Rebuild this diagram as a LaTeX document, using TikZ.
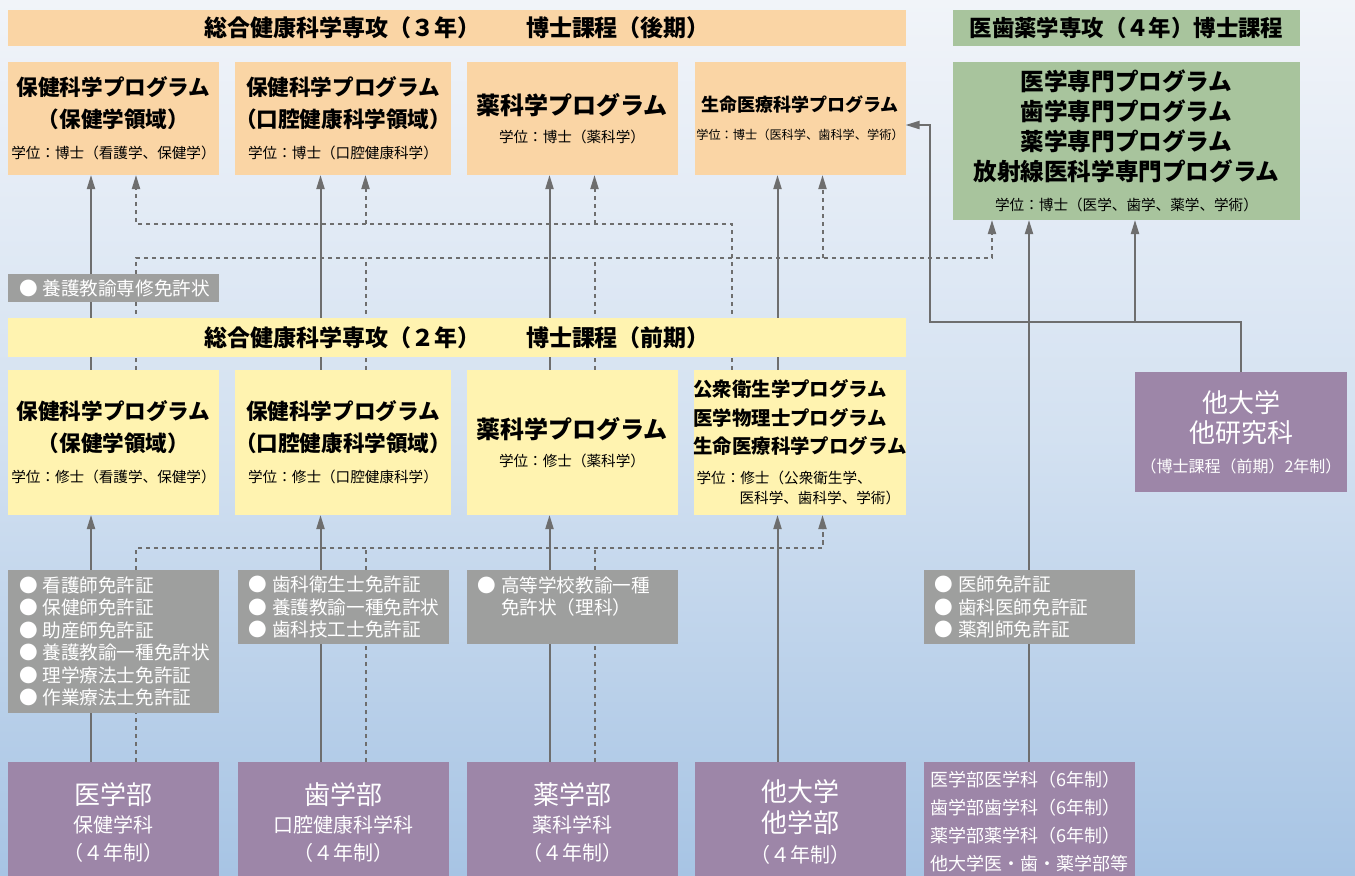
\documentclass[tikz,border=0pt]{standalone}
\usepackage{fontspec}
\setmainfont{Noto Sans CJK JP}
\usetikzlibrary{arrows.meta, calc, positioning}

\definecolor{docorange}{HTML}{FAD5A5}
\definecolor{msyellow}{HTML}{FFF3B0}
\definecolor{medgreen}{HTML}{A8C49D}
\definecolor{licgray}{HTML}{9E9F9E}
\definecolor{ugpurple}{HTML}{9D86A8}
\definecolor{linegray}{HTML}{6E6E6E}
\definecolor{bgtop}{HTML}{F1F4F9}
\definecolor{bgmid}{HTML}{D3E1F1}
\definecolor{bgbot}{HTML}{A7C4E4}

% fonts for the box texts
\newcommand{\hdfont}{\bfseries\fontsize{11.5}{14}\selectfont}
\newcommand{\progttl}{\bfseries\fontsize{10.8}{15.8}\selectfont}
\newcommand{\bigttl}{\bfseries\fontsize{12}{14}\selectfont}
\newcommand{\degtxt}{\mdseries\fontsize{7.3}{10}\selectfont}
\newcommand{\ugbig}{\fontsize{13}{16}\selectfont}
\newcommand{\bul}{●\kern2.5pt}

\pgfdeclarelayer{back}
\pgfdeclarelayer{lines}
\pgfsetlayers{back,lines,main}

\begin{document}
\begin{tikzpicture}[x=0.5pt, y=-0.5pt,
    every node/.style={inner sep=0pt, outer sep=0pt},
    hdr/.style={minimum height=18pt, font=\hdfont},
    box/.style={minimum width=105.5pt, align=center},
    doc/.style={box, fill=docorange, minimum height=56.5pt, font=\fontsize{10.8}{15.8}\selectfont},
    mas/.style={box, fill=msyellow, minimum height=72.5pt, font=\fontsize{10.8}{15.8}\selectfont},
    lic/.style={box, fill=licgray, text=white, align=left, text width=94.5pt, font=\fontsize{9.3}{11.25}\selectfont},
    ug/.style={box, fill=ugpurple, text=white, minimum height=60pt, font=\fontsize{10}{14}\selectfont},
    arr/.style={draw=linegray, line width=1pt, -{Triangle[length=7pt,width=4pt]}},
    darr/.style={arr, line width=1pt, dash pattern=on 2.2pt off 1.8pt},
    dline/.style={darr, -},
  ]
\useasboundingbox (0,0) rectangle (1355,875);
\clip (0,0) rectangle (1355,875);
\begin{pgfonlayer}{back}
\fill[top color=bgtop, bottom color=bgbot, middle color=bgmid] (0,0) rectangle (1355,875);
\end{pgfonlayer}

% doctoral course
\node[hdr, fill=docorange, minimum width=449pt] (h3) at (457,28) {総合健康科学専攻（３年）　　博士課程（後期）};
\node[hdr, fill=medgreen, minimum width=173.5pt, font=\bfseries\fontsize{11.2}{14}\selectfont] (hg) at (1126.5,28) {医歯薬学専攻（４年）博士課程};
\node[doc] (d1) at (113.5,118.5) {\progttl 保健科学プログラム\\\progttl （保健学領域）\\\degtxt 学位：博士（看護学、保健学）};
\node[doc] (d2) at (343,118.5) {\progttl 保健科学プログラム\\\progttl （口腔健康科学領域）\\\degtxt 学位：博士（口腔健康科学）};
\node[doc, font=\fontsize{12}{14}\selectfont] (d3) at (572,118.5) {\bigttl 薬科学プログラム\\\degtxt 学位：博士（薬科学）};
\node[doc, font=\fontsize{9}{14}\selectfont] (d4) at (800,118.5) {\bfseries 生命医療科学プログラム\\\fontsize{6.1}{8}\selectfont 学位：博士（医科学、歯科学、学術）};
\node[box, fill=medgreen, minimum width=173.5pt, minimum height=79pt, font=\fontsize{11.8}{15}\selectfont] (g1) at (1126.5,141) {\bfseries 医学専門プログラム\\\bfseries 歯学専門プログラム\\\bfseries 薬学専門プログラム\\\bfseries 放射線医科学専門プログラム\\\degtxt 学位：博士（医学、歯学、薬学、学術）};
\node[lic, minimum height=14pt] (ly) at (113.5,288) {\bul 養護教諭専修免許状};

% master course
\node[hdr, fill=msyellow, minimum width=449pt, minimum height=19.5pt] (h2) at (457,337.5) {総合健康科学専攻（２年）　　博士課程（前期）};
\node[mas] (m1) at (113.5,442.5) {\progttl 保健科学プログラム\\\progttl （保健学領域）\\\degtxt 学位：修士（看護学、保健学）};
\node[mas] (m2) at (343,442.5) {\progttl 保健科学プログラム\\\progttl （口腔健康科学領域）\\\degtxt 学位：修士（口腔健康科学）};
\node[mas, font=\fontsize{12}{14}\selectfont] (m3) at (572,442.5) {\bigttl 薬科学プログラム\\\degtxt 学位：修士（薬科学）};
\node[mas, align=left, font=\fontsize{9.7}{14.2}\selectfont] (m4) at (800,442.5) {\bfseries 公衆衛生学プログラム\\\bfseries 医学物理士プログラム\\\bfseries 生命医療科学プログラム\\[0.8pt]\degtxt\hspace*{1.5pt}学位：修士（公衆衛生学、\\[-4pt]\degtxt\hspace*{23pt}医科学、歯科学、学術）};
\node[ug, minimum width=106pt, font=\fontsize{8}{15}\selectfont] (o1) at (1241,432) {{\ugbig 他大学}\\{\ugbig 他研究科}\\（博士課程（前期）2年制）};

% licences
\node[lic, minimum height=71.5pt] (l1) at (113.5,641.5) {\bul 看護師免許証\\\bul 保健師免許証\\\bul 助産師免許証\\\bul 養護教諭一種免許状\\\bul 理学療法士免許証\\\bul 作業療法士免許証};
\node[lic, minimum height=37pt] (l2) at (343,607) {\bul 歯科衛生士免許証\\\bul 養護教諭一種免許状\\\bul 歯科技工士免許証};
\node[lic, minimum height=37pt] (l3) at (572,607) {\bul 高等学校教諭一種\\\hphantom{\bul}免許状（理科）\\\mbox{}};
\node[lic, minimum height=37pt] (l5) at (1029,607) {\bul 医師免許証\\\bul 歯科医師免許証\\\bul 薬剤師免許証};

% undergraduate
\node[ug] (u1) at (113.5,822) {{\ugbig 医学部}\\保健学科\\（４年制）};
\node[ug] (u2) at (343,822) {{\ugbig 歯学部}\\口腔健康科学科\\（４年制）};
\node[ug] (u3) at (572,822) {{\ugbig 薬学部}\\薬科学科\\（４年制）};
\node[ug] (u4) at (800,822) {{\ugbig 他大学}\\[1.5pt]{\ugbig 他学部}\\[1pt]（４年制）};
\node[ug, align=left, font=\fontsize{9}{14}\selectfont] (u5) at (1029,822) {医学部医学科（6年制）\\歯学部歯学科（6年制）\\薬学部薬学科（6年制）\\他大学医・歯・薬学部等};

\begin{pgfonlayer}{lines}
\foreach \i in {1,...,4}{
  \draw[arr] ([shift={(-22.5,0)}]m\i.north) -- ([shift={(-22.5,0)}]d\i.south);
  \draw[arr] ([shift={(-22.5,0)}]u\i.north) -- ([shift={(-22.5,0)}]m\i.south);
}
\draw[arr] (u5.north) -- (u5.north |- g1.south);
\coordinate (tl) at (930,322);
\draw[arr] (o1.north) |- (tl) |- ([shift={(0,6.5)}]d4.east);
\draw[arr] (o1.north west |- tl) -- (o1.north west |- g1.south);
% dashed routes
\draw[darr] ([shift={(-68,0)}]m4.north) |- ([shift={(22.5,49)}]d1.south) -- ([shift={(22.5,0)}]d1.south);
\foreach \i in {2,3}
  \draw[darr] ([shift={(22.5,49)}]d\i.south) -- ([shift={(22.5,0)}]d\i.south);
\draw[darr] ([shift={(22.5,0)}]m1.north) |- ([shift={(-134.5,38)}]g1.south) -- ([shift={(-134.5,0)}]g1.south);
\foreach \i in {2,3}
  \draw[dline] ([shift={(22.5,0)}]m\i.north) -- ++(0,-112);
\draw[darr] ([shift={(22.5,83)}]d4.south) -- ([shift={(22.5,0)}]d4.south);
\draw[darr] ([shift={(22.5,0)}]u1.north) |- ([shift={(22.5,33)}]m4.south) -- ([shift={(22.5,0)}]m4.south);
\foreach \i in {2,3}
  \draw[dline] ([shift={(22.5,0)}]u\i.north) -- ++(0,-214);
\end{pgfonlayer}
\end{tikzpicture}
\end{document}
